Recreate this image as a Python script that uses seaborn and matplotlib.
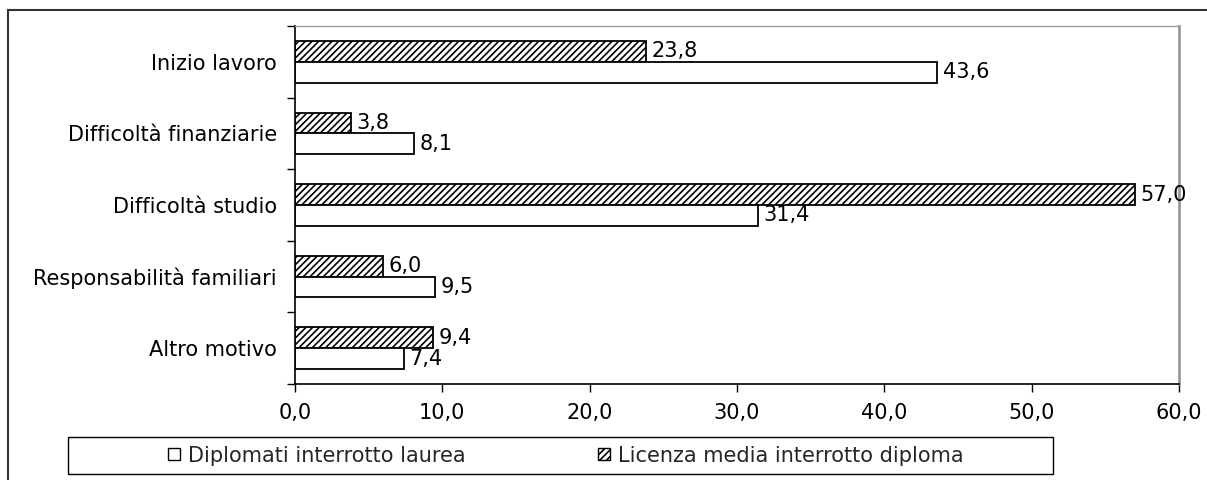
import matplotlib
matplotlib.use("Agg")
import matplotlib.pyplot as plt
import seaborn as sns
import pandas as pd
from matplotlib.patches import Rectangle, Patch

categories = ["Inizio lavoro", "Difficoltà finanziarie", "Difficoltà studio",
              "Responsabilità familiari", "Altro motivo"]
series_names = ["Diplomati interrotto laurea", "Licenza media interrotto diploma"]
diplomati = [43.6, 8.1, 31.4, 9.5, 7.4]
licenza = [23.8, 3.8, 57.0, 6.0, 9.4]
x_ticks = [0, 10, 20, 30, 40, 50, 60]

sns.set_theme(style="white")
plt.rcParams['font.family'] = ['DejaVu Sans']
plt.rcParams['hatch.color'] = 'black'
plt.rcParams['hatch.linewidth'] = 1.2

df = pd.DataFrame({
    "Motivo": categories * 2,
    "Valore": licenza + diplomati,
    "Serie": [series_names[1]] * 5 + [series_names[0]] * 5,
})

W, H = 1207, 480
fig = plt.figure(figsize=(W / 100, H / 100), dpi=100)
ax = fig.add_axes([295 / W, 1 - 384 / H, (1179 - 295) / W, (384 - 26) / H])

sns.barplot(data=df, y="Motivo", x="Valore", hue="Serie",
            hue_order=[series_names[1], series_names[0]], order=categories,
            orient="h", width=0.58, ax=ax, legend=False,
            palette=["white", "white"], edgecolor="black", linewidth=1.3,
            saturation=1)

for bar in ax.containers[0]:
    bar.set_hatch("/////")

fs = 15
for cont, vals in zip(ax.containers, [licenza, diplomati]):
    ax.bar_label(cont, labels=[f"{v:.1f}".replace(".", ",") for v in vals],
                 padding=4, fontsize=fs, color="black")

ax.set_xlim(0, 60)
ax.set_ylim(4.5, -0.5)
ax.set_xticks(x_ticks)
ax.set_xticklabels([f"{v:.1f}".replace(".", ",") for v in x_ticks], fontsize=fs)
ax.set_yticks(range(len(categories)))
ax.set_yticklabels(categories, fontsize=fs)
ax.set_yticks([i - 0.5 for i in range(len(categories) + 1)], minor=True)
ax.tick_params(axis="y", which="major", length=0, pad=13, colors="black")
ax.tick_params(axis="y", which="minor", length=6, width=1, color="black", direction="out", left=True)
ax.tick_params(axis="x", which="major", length=6, width=1, color="black",
               direction="out", bottom=True, pad=8, colors="black")
ax.set_xlabel("")
ax.set_ylabel("")
ax.grid(False)

for side in ["left", "bottom"]:
    ax.spines[side].set_color("black")
    ax.spines[side].set_linewidth(1.2)
ax.spines["top"].set_color("#999999")
ax.spines["top"].set_linewidth(1.0)
ax.spines["right"].set_color("#999999")
ax.spines["right"].set_linewidth(2.0)

# outer frame
fig.add_artist(Rectangle((8 / W, -0.1), 1.2, 1 - 10 / H + 0.1, transform=fig.transFigure,
                         fill=False, edgecolor="#333333", linewidth=1.5, clip_on=False))

# legend frame
fig.add_artist(Rectangle((68 / W, 1 - 474 / H), (1053 - 68) / W, (474 - 437) / H,
                         transform=fig.transFigure, fill=False, edgecolor="black",
                         linewidth=1.0))
handles = [Patch(facecolor="white", edgecolor="black", linewidth=1.0),
           Patch(facecolor="white", edgecolor="black", hatch="/////", linewidth=1.0)]
fig.legend(handles, series_names, loc="center", bbox_to_anchor=(566 / W, 1 - 455.5 / H),
           ncol=2, frameon=False, fontsize=fs, handlelength=0.55, handleheight=0.55,
           handletextpad=0.4, columnspacing=6.35)

fig.savefig("out.png", dpi=100)
